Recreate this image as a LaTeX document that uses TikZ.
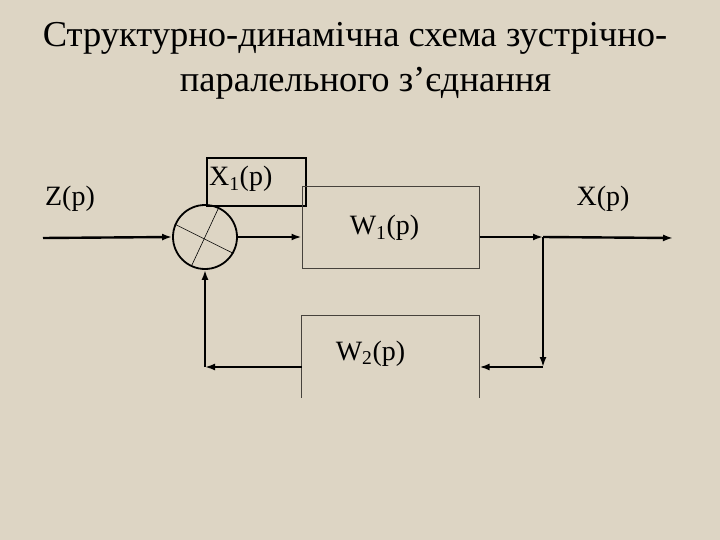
\documentclass[tikz,border=0pt]{standalone}
\usepackage{fontspec}
\usetikzlibrary{arrows.meta}
\definecolor{bg}{RGB}{221,213,196}
\definecolor{boxline}{RGB}{70,66,60}
\tikzset{
  arr/.style={line width=2.4pt, -{Latex[length=10pt,width=7pt]}},
  lbl/.style={inner sep=0pt, anchor=base},
  ttl/.style={inner sep=0pt, anchor=base},
  wbox/.style={draw=boxline, line width=1pt, minimum width=177pt, minimum height=81pt, inner sep=0pt},
}
\newcommand{\lblfont}{\fontspec{Liberation Serif}\fontsize{28}{31}\selectfont}
\newcommand{\ttlfont}{\fontspec{Liberation Serif}\fontsize{36.5}{40}\selectfont}
\begin{document}
\begin{tikzpicture}[x=1pt,y=-1pt]
\fill[bg] (0,0) rectangle (720,540);
\useasboundingbox (0,0) rectangle (720,540);
% title
\node[ttl] (t1) at (355,47) {\ttlfont Структурно-динамічна схема зустрічно-};
\node[ttl] (t2) at (365.5,92) {\ttlfont паралельного з’єднання};
% blocks
\node[draw, line width=1.8pt, minimum width=99pt, minimum height=48pt, inner sep=0pt] (x1box) at (256.5,182) {};
\node[lbl, anchor=base west] (x1) at (209,186) {\lblfont X\textsubscript{1}(p)};
\node[wbox] (w1) at (390.5,227.5) {};
\node[lbl] (w1l) at (384.5,235) {\lblfont W\textsubscript{1}(p)};
\node[wbox, draw=none] (w2) at (390.5,356.5) {};
\draw[draw=boxline, line width=1pt] (w2.south west) -- (w2.north west) -- (w2.north east) -- (w2.south east);
\node[lbl] (w2l) at (370.5,360) {\lblfont W\textsubscript{2}(p)};
% summing junction
\node[circle, draw, line width=1.8pt, minimum size=64pt, inner sep=0pt] (s) at (205,237) {};
\draw[line width=0.6pt] (s.157) -- (s.-30);
\draw[line width=0.6pt] (s.65) -- (s.245);
% labels
\node[lbl] (zl) at (70,206) {\lblfont Z(p)};
\node[lbl] (xl) at (603,206) {\lblfont X(p)};
% coordinates
\coordinate (zin) at (43,238);
\coordinate (br) at (543,237);
\coordinate (xout) at (673,238);
\coordinate (bl) at (543,367);
\coordinate (fb) at (205,367);
% connectors
\draw[arr] (zin) -- (s.west);
\draw[arr] (s.east) -- (s.east -| w1.west);
\draw[arr] (s.east -| w1.east) -- (br);
\draw[arr] (br) -- (xout);
\draw[arr] (br) -- (bl);
\draw[arr] (bl) -- (bl -| w2.east);
\draw[arr] (bl -| w2.west) -- (fb);
\draw[arr] (fb) -- (s.south);
\end{tikzpicture}
\end{document}
